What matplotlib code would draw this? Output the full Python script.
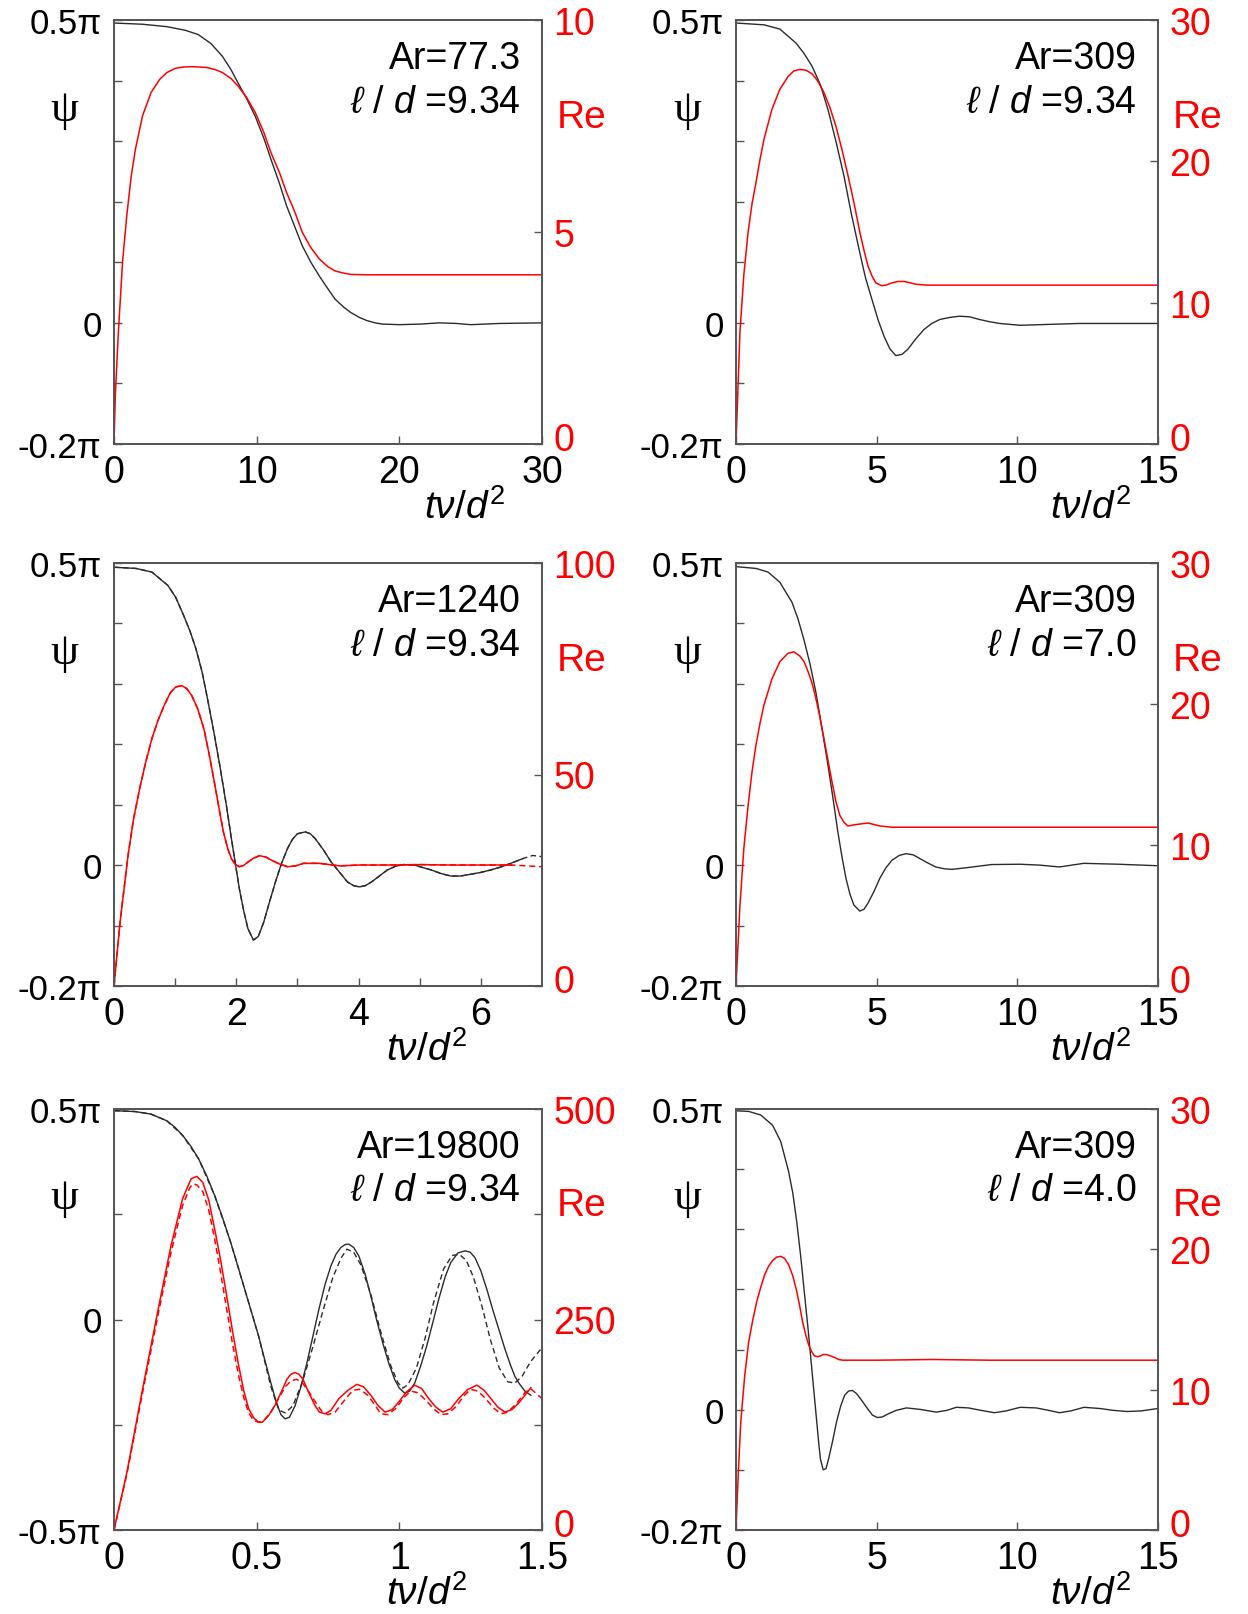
import matplotlib
matplotlib.use('Agg')
import matplotlib.pyplot as plt
from matplotlib.ticker import FixedLocator
from matplotlib.transforms import ScaledTranslation

plt.rcParams['font.family'] = ['Liberation Sans', 'DejaVu Sans']
plt.rcParams['mathtext.fontset'] = 'custom'
plt.rcParams['mathtext.rm'] = 'Liberation Sans'
plt.rcParams['mathtext.it'] = 'Liberation Sans:italic'
plt.rcParams['mathtext.bf'] = 'Liberation Sans:bold'

# ---------------- data (psi in units of pi) ----------------
# Panel 1: Ar=77.3, l/d=9.34
p1_t_psi = [0, 2, 3.7, 5, 5.9, 6.8, 7.6, 8.2, 8.7, 9.3, 9.9, 10.5, 11.0, 11.6, 12.1, 12.7, 13.2, 13.8,
            14.4, 15.0, 15.5, 16.1, 16.6, 17.2, 17.7, 18.3, 18.8, 20, 21.5, 22.8, 24, 25, 27, 30]
p1_psi = [0.495, 0.493, 0.489, 0.483, 0.476, 0.461, 0.440, 0.418, 0.396, 0.37, 0.341, 0.305, 0.27, 0.23,
          0.193, 0.157, 0.127, 0.1, 0.077, 0.056, 0.039, 0.026, 0.017, 0.009, 0.004, 0.0, -0.002, -0.003,
          -0.002, 0.0, -0.001, -0.003, -0.001, 0.0]
p1_t_re = [0, 0.1, 0.3, 0.6, 0.9, 1.2, 1.5, 2.0, 2.6, 3.2, 3.7, 4.3, 4.8, 5.5, 6.5, 7.1, 7.6, 8.2, 8.7, 9.3,
           9.9, 10.5, 11.0, 11.6, 12.1, 12.7, 13.2, 13.8, 14.4, 15.0, 15.5, 16.1, 16.6, 17.7, 20, 25, 30]
p1_re = [0, 1.2, 2.6, 4.3, 5.4, 6.3, 6.95, 7.74, 8.29, 8.6, 8.76, 8.86, 8.89, 8.9, 8.88, 8.83, 8.76, 8.62,
         8.44, 8.17, 7.82, 7.35, 6.87, 6.4, 5.93, 5.45, 4.99, 4.63, 4.36, 4.18, 4.08, 4.03, 4.0, 3.99, 3.99,
         3.99, 3.99]

# Panel 2: Ar=309, l/d=9.34
p2_t_psi = [0, 1.0, 1.56, 2.13, 2.4, 2.7, 3.0, 3.27, 3.55, 3.84, 4.1, 4.4, 4.6, 4.83, 5.05, 5.26, 5.47, 5.68,
            5.9, 6.1, 6.4, 6.68, 6.96, 7.24, 7.6, 7.95, 8.3, 8.66, 9.0, 9.37, 10.1, 10.8, 12.2, 13.5, 15]
p2_psi = [0.495, 0.492, 0.485, 0.462, 0.446, 0.424, 0.393, 0.352, 0.30, 0.242, 0.18, 0.116, 0.075, 0.039,
          0.005, -0.022, -0.043, -0.054, -0.052, -0.044, -0.026, -0.011, -0.001, 0.0055, 0.009, 0.011, 0.010,
          0.0055, 0.002, -0.001, -0.004, -0.003, -0.001, -0.001, -0.001]
p2_t_re = [0, 0.14, 0.28, 0.43, 0.57, 0.71, 0.85, 1.0, 1.28, 1.56, 1.85, 2.06, 2.27, 2.48, 2.7, 2.9, 3.12,
           3.34, 3.55, 3.77, 3.98, 4.2, 4.4, 4.55, 4.69, 4.83, 4.97, 5.18, 5.35, 5.54, 5.75, 5.97, 6.2, 6.4,
           6.8, 8, 10, 12, 15]
p2_re = [0, 7.9, 12.0, 15.0, 17.0, 18.5, 20.1, 21.6, 23.7, 25.1, 26.0, 26.4, 26.5, 26.45, 26.2, 25.7, 24.9,
         23.8, 22.5, 20.8, 19.0, 17.0, 15.0, 13.7, 12.6, 11.9, 11.4, 11.2, 11.25, 11.4, 11.5, 11.5, 11.4,
         11.3, 11.24, 11.24, 11.24, 11.24, 11.24]

# Panel 3: Ar=1240, l/d=9.34 (solid and dashed)
p3_t_psi = [0, 0.36, 0.62, 0.88, 1.01, 1.14, 1.24, 1.34, 1.44, 1.53, 1.63, 1.73, 1.83, 1.92, 2.05, 2.12,
            2.19, 2.28, 2.36, 2.45, 2.54, 2.64, 2.74, 2.84, 2.92, 3.0, 3.13, 3.21, 3.29, 3.42, 3.55, 3.69,
            3.82, 3.92, 4.01, 4.11, 4.21, 4.34, 4.47, 4.6, 4.73, 4.92, 5.05, 5.19, 5.35, 5.51, 5.67, 5.84,
            6.0, 6.16, 6.33, 6.49, 6.69]
p3_psi = [0.493, 0.491, 0.485, 0.463, 0.443, 0.413, 0.388, 0.358, 0.32, 0.275, 0.222, 0.165, 0.104, 0.044,
          -0.039, -0.075, -0.105, -0.124, -0.118, -0.094, -0.062, -0.028, 0.003, 0.028, 0.043, 0.052, 0.055,
          0.052, 0.044, 0.026, 0.0055, -0.012, -0.028, -0.034, -0.036, -0.034, -0.028, -0.018, -0.008,
          -0.002, 0.001, 0.0, -0.004, -0.008, -0.014, -0.018, -0.018, -0.015, -0.012, -0.008, -0.003, 0.003,
          0.011]
p3_t_psi_dash = p3_t_psi + [6.85, 7.0]
p3_psi_dash = p3_psi + [0.016, 0.014]
p3_t_re = [0, 0.1, 0.23, 0.32, 0.42, 0.52, 0.62, 0.72, 0.82, 0.92, 1.01, 1.11, 1.19, 1.27, 1.37, 1.47, 1.56,
           1.66, 1.73, 1.79, 1.86, 1.92, 1.98, 2.05, 2.12, 2.19, 2.28, 2.38, 2.48, 2.58, 2.71, 2.84, 2.97,
           3.1, 3.36, 3.69, 4.01, 4.5, 5.0, 5.5, 6.0, 6.5]
p3_re = [0, 15.2, 30.9, 39.5, 46.7, 53.0, 58.5, 62.8, 66.3, 69.3, 70.7, 71.0, 70.3, 68.7, 65.5, 60.8, 54.5,
         46.7, 41.0, 36.4, 32.5, 30.1, 28.8, 28.2, 28.5, 29.3, 30.2, 30.8, 30.5, 29.7, 28.8, 28.2, 28.4,
         29.0, 29.0, 28.4, 28.6, 28.6, 28.7, 28.6, 28.6, 28.6]
p3_t_re_dash = p3_t_re + [7.0]
p3_re_dash = p3_re + [28.2]

# Panel 4: Ar=309, l/d=7.0
p4_t_psi = [0, 0.71, 1.14, 1.56, 1.99, 2.2, 2.41, 2.63, 2.84, 3.05, 3.27, 3.45, 3.62, 3.77, 3.91, 4.05,
            4.19, 4.4, 4.55, 4.69, 4.9, 5.11, 5.32, 5.54, 5.8, 6.04, 6.3, 6.53, 6.8, 7.1, 7.4, 7.67, 8.24,
            9.09, 10.1, 10.8, 11.5, 12.36, 13.6, 15]
p4_psi = [0.494, 0.491, 0.485, 0.468, 0.435, 0.408, 0.374, 0.333, 0.286, 0.228, 0.165, 0.11, 0.055, 0.013,
          -0.022, -0.048, -0.066, -0.076, -0.073, -0.063, -0.044, -0.022, -0.005, 0.008, 0.016, 0.019,
          0.017, 0.011, 0.004, -0.003, -0.006, -0.007, -0.004, 0.001, 0.0015, 0.0, -0.003, 0.003, 0.0015,
          -0.001]
p4_t_re = [0, 0.14, 0.28, 0.43, 0.57, 0.71, 0.85, 0.99, 1.28, 1.56, 1.85, 2.06, 2.27, 2.42, 2.56, 2.7, 2.84,
           2.98, 3.13, 3.27, 3.41, 3.55, 3.69, 3.84, 3.98, 4.26, 4.69, 5.11, 5.54, 7, 9, 11, 13, 15]
p4_re = [0, 5.7, 9.8, 12.8, 15.2, 17.1, 18.6, 19.9, 21.8, 23.0, 23.6, 23.7, 23.4, 23.0, 22.3, 21.5, 20.4,
         19.1, 17.5, 16.0, 14.5, 13.1, 12.1, 11.6, 11.35, 11.45, 11.56, 11.35, 11.26, 11.26, 11.26, 11.26,
         11.26, 11.26]

# Panel 5: Ar=19800, l/d=9.34 (solid and dashed)
p5_t_psi = [0, 0.073, 0.129, 0.185, 0.213, 0.241, 0.269, 0.297, 0.325, 0.353, 0.381, 0.409, 0.437, 0.465,
            0.486, 0.507, 0.528, 0.55, 0.568, 0.585, 0.6, 0.615, 0.634, 0.655, 0.676, 0.697, 0.718, 0.74,
            0.76, 0.778, 0.795, 0.81, 0.823, 0.84, 0.858, 0.88, 0.9, 0.92, 0.942, 0.963, 0.984, 1.0, 1.019,
            1.036, 1.054, 1.075, 1.096, 1.117, 1.138, 1.16, 1.18, 1.205, 1.23, 1.248, 1.265, 1.286, 1.307,
            1.328, 1.349, 1.37, 1.391, 1.405, 1.419, 1.44, 1.461]
p5_psi = [0.496, 0.494, 0.488, 0.472, 0.457, 0.437, 0.412, 0.381, 0.341, 0.294, 0.241, 0.183, 0.12, 0.056,
          0.008, -0.04, -0.095, -0.151, -0.195, -0.226, -0.236, -0.232, -0.206, -0.16, -0.103, -0.04, 0.024,
          0.084, 0.127, 0.155, 0.171, 0.178, 0.179, 0.171, 0.151, 0.108, 0.056, 0.0, -0.056, -0.104, -0.143,
          -0.163, -0.175, -0.17, -0.151, -0.11, -0.063, -0.008, 0.048, 0.1, 0.135, 0.158, 0.163, 0.16,
          0.147, 0.115, 0.071, 0.022, -0.024, -0.07, -0.111, -0.135, -0.151, -0.17, -0.18]
p5_t_psi_dash = [0, 0.073, 0.129, 0.185, 0.241, 0.297, 0.353, 0.409, 0.465, 0.507, 0.55, 0.578, 0.6, 0.627,
                 0.662, 0.697, 0.732, 0.767, 0.795, 0.816, 0.84, 0.865, 0.9, 0.935, 0.97, 0.995, 1.012,
                 1.03, 1.06, 1.09, 1.12, 1.155, 1.185, 1.21, 1.235, 1.26, 1.29, 1.32, 1.35, 1.38, 1.405,
                 1.43, 1.46, 1.5]
p5_psi_dash = [0.496, 0.494, 0.488, 0.472, 0.437, 0.381, 0.294, 0.183, 0.056, -0.04, -0.16, -0.215,
               -0.222, -0.205, -0.145, -0.065, 0.02, 0.1, 0.145, 0.167, 0.16, 0.13, 0.06, -0.03, -0.11,
               -0.15, -0.163, -0.155, -0.115, -0.045, 0.04, 0.12, 0.152, 0.155, 0.14, 0.1, 0.03, -0.05,
               -0.115, -0.148, -0.151, -0.135, -0.1, -0.067]
p5_t_re = [0, 0.045, 0.1, 0.157, 0.2, 0.24, 0.27, 0.29, 0.311, 0.332, 0.353, 0.374, 0.395, 0.416, 0.437,
           0.455, 0.472, 0.49, 0.507, 0.52, 0.542, 0.564, 0.585, 0.606, 0.62, 0.634, 0.648, 0.662, 0.683,
           0.704, 0.72, 0.739, 0.76, 0.788, 0.82, 0.851, 0.875, 0.9, 0.925, 0.95, 0.975, 0.998, 1.025,
           1.054, 1.078, 1.103, 1.128, 1.152, 1.18, 1.208, 1.24, 1.272, 1.297, 1.321, 1.345, 1.37, 1.395,
           1.419, 1.44, 1.461]
p5_re = [0, 68, 167, 266, 338, 393, 417, 420, 413, 392, 357, 320, 278, 235, 195, 165, 144, 133, 128, 128,
         136, 148, 163, 179, 185, 187, 185, 179, 163, 148, 140, 138, 142, 156, 166, 173, 170, 160, 148, 140,
         143, 152, 164, 172, 168, 156, 146, 140, 144, 156, 167, 172, 166, 156, 146, 140, 143, 151, 160, 169]
p5_t_re_dash = [0, 0.045, 0.1, 0.157, 0.2, 0.24, 0.265, 0.276, 0.29, 0.311, 0.332, 0.353, 0.374, 0.395,
                0.416, 0.437, 0.455, 0.472, 0.49, 0.507, 0.525, 0.55, 0.575, 0.6, 0.62, 0.64, 0.66, 0.685,
                0.71, 0.73, 0.75, 0.775, 0.81, 0.837, 0.86, 0.89, 0.915, 0.935, 0.96, 0.99, 1.015, 1.04,
                1.065, 1.09, 1.12, 1.145, 1.17, 1.2, 1.225, 1.25, 1.275, 1.3, 1.33, 1.356, 1.38, 1.41,
                1.44, 1.46, 1.48, 1.5]
p5_re_dash = [0, 66, 163, 260, 330, 385, 406, 411, 410, 402, 380, 345, 305, 262, 220, 183, 157, 139, 130,
              128, 130, 140, 155, 170, 177, 179, 175, 163, 150, 140, 137, 140, 155, 166, 167, 160, 148, 138,
              137, 145, 157, 165, 163, 155, 144, 137, 138, 147, 159, 167, 165, 157, 145, 138, 140, 150, 163,
              168, 162, 156]

# Panel 6: Ar=309, l/d=4.0
p6_t_psi = [0, 0.45, 0.88, 1.3, 1.59, 1.87, 2.02, 2.16, 2.3, 2.44, 2.55, 2.65, 2.76, 2.87, 2.94, 3.0, 3.1,
            3.2, 3.29, 3.43, 3.57, 3.72, 3.86, 4.0, 4.14, 4.28, 4.43, 4.64, 4.85, 5.02, 5.2, 5.45, 5.7,
            6.06, 6.55, 7.12, 7.5, 7.83, 8.26, 8.7, 9.18, 9.6, 10.1, 10.67, 11.1, 11.5, 11.9, 12.37, 12.94,
            13.4, 13.9, 14.4, 15]
p6_psi = [0.497, 0.496, 0.49, 0.473, 0.446, 0.396, 0.36, 0.312, 0.255, 0.19, 0.14, 0.09, 0.035, -0.02,
          -0.055, -0.082, -0.1, -0.098, -0.082, -0.053, -0.021, 0.006, 0.024, 0.031, 0.032, 0.027, 0.018,
          0.004, -0.009, -0.013, -0.012, -0.006, -0.001, 0.003, 0.0005, -0.004, -0.001, 0.004, 0.003,
          -0.001, -0.005, -0.002, 0.004, 0.003, -0.001, -0.005, -0.002, 0.004, 0.002, -0.001, -0.003,
          -0.002, 0.002]
p6_t_re = [0, 0.08, 0.17, 0.31, 0.45, 0.6, 0.74, 0.88, 1.02, 1.16, 1.3, 1.45, 1.59, 1.73, 1.87, 2.02, 2.16,
           2.27, 2.37, 2.48, 2.58, 2.69, 2.79, 2.9, 3.0, 3.1, 3.22, 3.36, 3.5, 3.65, 3.79, 5, 7, 9, 11, 13,
           15]
p6_re = [0, 4.0, 7.7, 11.0, 13.4, 15.0, 16.3, 17.3, 18.2, 18.8, 19.2, 19.45, 19.5, 19.35, 18.9, 18.1, 17.0,
         15.9, 14.8, 13.9, 13.2, 12.7, 12.4, 12.35, 12.4, 12.5, 12.5, 12.4, 12.3, 12.15, 12.1, 12.1, 12.15,
         12.1, 12.1, 12.1, 12.1]

ar_labels = ['Ar=77.3', 'Ar=309', 'Ar=1240', 'Ar=309', 'Ar=19800', 'Ar=309']
ld_labels = ['9.34', '9.34', '9.34', '7.0', '9.34', '4.0']
x_ticklabels = [['0', '10', '20', '30'], ['0', '5', '10', '15'], ['0', '2', '4', '6'],
                ['0', '5', '10', '15'], ['0', '0.5', '1', '1.5'], ['0', '5', '10', '15']]
x_ticks = [[0, 10, 20, 30], [0, 5, 10, 15], [0, 2, 4, 6], [0, 5, 10, 15], [0, 0.5, 1, 1.5], [0, 5, 10, 15]]
x_minor = [[], [], [1, 3, 5], [], [], []]
x_lims = [(0, 30), (0, 15), (0, 7), (0, 15), (0, 1.5), (0, 15)]
psi_lims = [(-0.2, 0.5)] * 4 + [(-0.5, 0.5), (-0.2, 0.5)]
psi_ticklabels = [['-0.2π', '0', '0.5π']] * 4 + [['-0.5π', '0', '0.5π'], ['-0.2π', '0', '0.5π']]
re_lims = [(0, 10), (0, 30), (0, 100), (0, 30), (0, 500), (0, 30)]
re_ticks = [[0, 5, 10], [0, 10, 20, 30], [0, 50, 100], [0, 10, 20, 30], [0, 250, 500], [0, 10, 20, 30]]
re_minor = [[], [], [], [], [125, 375], []]

# ---------------- figure ----------------
W, H = 1248, 1615
fig = plt.figure(figsize=(W / 100, H / 100), dpi=100)

cols = [(114, 542), (736, 1158)]
rows = [(21, 445), (564, 987), (1110, 1531)]
xlab_x = [0.82, 0.84, 0.73, 0.84, 0.73, 0.84]

BLACK = '#2b2b2b'
RED = '#ff0000'
SPINE = '#555555'

series = [
    [(p1_t_psi, p1_psi, '-')], [(p2_t_psi, p2_psi, '-')],
    [(p3_t_psi, p3_psi, '-'), (p3_t_psi_dash, p3_psi_dash, '--')],
    [(p4_t_psi, p4_psi, '-')],
    [(p5_t_psi, p5_psi, '-'), (p5_t_psi_dash, p5_psi_dash, '--')],
    [(p6_t_psi, p6_psi, '-')],
]
re_series = [
    [(p1_t_re, p1_re, '-')], [(p2_t_re, p2_re, '-')],
    [(p3_t_re, p3_re, '-'), (p3_t_re_dash, p3_re_dash, '--')],
    [(p4_t_re, p4_re, '-')],
    [(p5_t_re, p5_re, '-'), (p5_t_re_dash, p5_re_dash, '--')],
    [(p6_t_re, p6_re, '-')],
]

for i in range(6):
    r, c = divmod(i, 2)
    x0, x1 = cols[c]
    y0, y1 = rows[r]
    ax = fig.add_axes([x0 / W, 1 - y1 / H, (x1 - x0) / W, (y1 - y0) / H])
    ax2 = ax.twinx()

    for t, v, ls in series[i]:
        if ls == '--':
            ax.plot(t, v, color=BLACK, lw=1.0, dashes=(4, 2.5))
        else:
            ax.plot(t, v, color=BLACK, lw=1.0)
    for t, v, ls in re_series[i]:
        if ls == '--':
            ax2.plot(t, v, color=RED, lw=1.1, dashes=(4, 2.5))
        else:
            ax2.plot(t, v, color=RED, lw=1.1)

    ax.set_xlim(*x_lims[i])
    lo, hi = psi_lims[i]
    ax.set_ylim(lo, hi)
    ax2.set_ylim(*re_lims[i])

    # left axis ticks
    ax.yaxis.set_major_locator(FixedLocator([lo, 0, hi]))
    ax.set_yticklabels(psi_ticklabels[i])
    step = 0.25 if lo == -0.5 else 0.1
    n = int(round((hi - lo) / step))
    ax.yaxis.set_minor_locator(FixedLocator([lo + k * step for k in range(1, n)]))
    ax.tick_params(axis='y', which='major', direction='in', length=6, width=1, color=SPINE,
                   labelsize=25, pad=9, right=False)
    ax.tick_params(axis='y', which='minor', direction='in', length=6, width=1, color=SPINE, right=False)

    # bottom axis ticks
    ax.xaxis.set_major_locator(FixedLocator(x_ticks[i]))
    ax.set_xticklabels(x_ticklabels[i])
    ax.xaxis.set_minor_locator(FixedLocator(x_minor[i]))
    ax.tick_params(axis='x', which='both', direction='in', length=6, width=1, color=SPINE,
                   labelsize=27, pad=7, top=False)

    # right axis ticks
    ax2.yaxis.set_major_locator(FixedLocator(re_ticks[i]))
    ax2.yaxis.set_minor_locator(FixedLocator(re_minor[i]))
    ax2.tick_params(axis='y', which='both', direction='in', length=6, width=1, color=SPINE,
                    labelsize=27, labelcolor=RED, pad=8)
    # lift the bottom "0" of the Re axis a little, as in the reference
    tk0 = ax2.yaxis.get_major_ticks()[0]
    tk0.label2.set_transform(tk0.label2.get_transform() +
                             ScaledTranslation(0, 6 / 72, fig.dpi_scale_trans))

    for a in (ax, ax2):
        for s in a.spines.values():
            s.set_color(SPINE)
            s.set_linewidth(1.3)

    # labels
    ax.text(-0.115, 0.79, 'ψ', transform=ax.transAxes, ha='center', va='center',
            fontsize=32, family=['Liberation Serif', 'DejaVu Serif'])
    ax.text(1.035, 0.748, 'Re', transform=ax.transAxes, ha='left', va='baseline',
            fontsize=28, color=RED)
    ax.text(0.95, 0.887, ar_labels[i], transform=ax.transAxes, ha='right', va='baseline',
            fontsize=27)
    ax.text(0.95, 0.783, r'$\ell\ /\ d$ =' + ld_labels[i], transform=ax.transAxes, ha='right',
            va='baseline', fontsize=27)
    ax.text(xlab_x[i], -0.175, r'$t\nu/d^2$', transform=ax.transAxes, ha='center', va='baseline',
            fontsize=28)

fig.savefig('out.png', dpi=100, facecolor='white')
